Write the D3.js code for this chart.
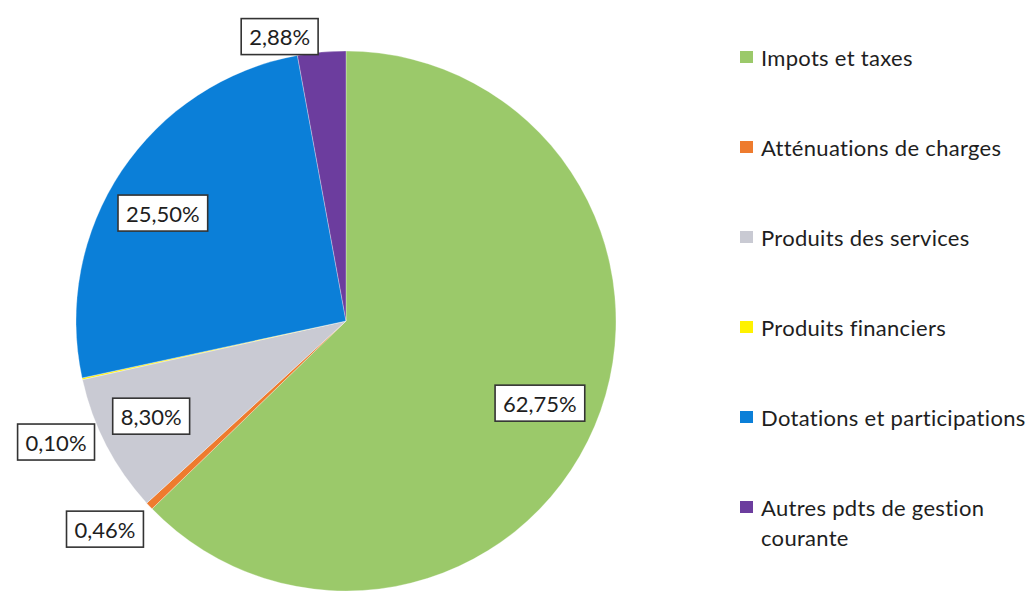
<!DOCTYPE html>
<html><head><meta charset="utf-8">
<script src="https://cdn.jsdelivr.net/npm/d3@7"></script>
<style>body{margin:0;background:#fff}svg{display:block}</style>
</head><body><svg id="c" width="1030" height="591"></svg>
<script>
const categories = ["Impots et taxes","Atténuations de charges","Produits des services","Produits financiers","Dotations et participations","Autres pdts de gestion courante"];
const values = [62.75, 0.46, 8.30, 0.10, 25.50, 2.88];
const labels = ["62,75%","0,46%","8,30%","0,10%","25,50%","2,88%"];
const colors = ["#9BC96A","#EE7B2E","#C9CAD3","#FFF200","#0B7FD8","#6C3D9E"];
// layout: label radius factor and pixel nudge
const labelRadius = [0.78, 1.19, 0.78, 1.16, 0.78, 1.08];
const labelNudge = [[0,0],[-7,-12],[-8,-2],[16,54],[-8,9],[-40,6]];

const svg = d3.select("#c");
const cx = 346, cy = 321, R = 270;
const FONT = "Lato, 'Open Sans', sans-serif";
const g = svg.append("g").attr("transform", `translate(${cx},${cy})`);
const pie = d3.pie().sort(null).value(d => d)(values);
const arc = d3.arc().innerRadius(0).outerRadius(R);
g.selectAll("path").data(pie).join("path")
  .attr("d", arc).attr("fill", (d,i) => colors[i])
  .attr("stroke", "rgba(255,255,255,0.5)").attr("stroke-width", 0.6);

pie.forEach((d, i) => {
  const a = (d.startAngle + d.endAngle) / 2;
  const r = R * labelRadius[i];
  const x = Math.sin(a) * r + labelNudge[i][0];
  const y = -Math.cos(a) * r + labelNudge[i][1];
  const lg = g.append("g").attr("transform", `translate(${x},${y})`);
  const t = lg.append("text").text(labels[i])
    .attr("text-anchor", "middle").attr("dominant-baseline", "central")
    .attr("font-family", FONT).attr("font-size", 22).attr("fill", "#1e1e1e");
  const w = t.node().getComputedTextLength() + 16, h = 36;
  lg.insert("rect", "text").attr("x", -w/2).attr("y", -h/2).attr("width", w).attr("height", h)
    .attr("fill", "#fff").attr("stroke", "#333").attr("stroke-width", 1.6);
});

const leg = svg.append("g");
categories.forEach((c, i) => {
  const y = 57 + i * 90;
  leg.append("rect").attr("x", 740).attr("y", y - 6).attr("width", 13).attr("height", 12).attr("fill", colors[i]);
  const words = i === 5 ? ["Autres pdts de gestion", "courante"] : [c];
  words.forEach((w, j) => {
    leg.append("text").attr("x", 761).attr("y", y + j * 30).text(w)
      .attr("dominant-baseline", "central").attr("letter-spacing", 0.3)
      .attr("font-family", FONT).attr("font-size", 22).attr("fill", "#1e1e1e");
  });
});
</script></body></html>
